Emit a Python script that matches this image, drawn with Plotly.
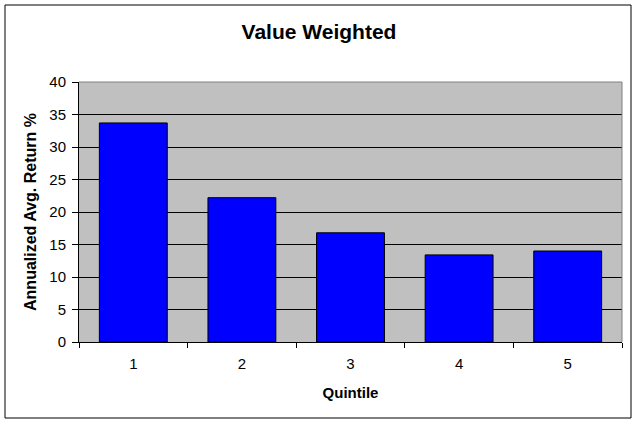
import plotly.graph_objects as go

categories = ["1", "2", "3", "4", "5"]
values = [33.7, 22.2, 16.8, 13.4, 14.0]
y_ticks = [0, 5, 10, 15, 20, 25, 30, 35, 40]

W, H = 638, 424
L, R, T, B = 79, 16, 82, 82
pw, ph = W - L - R, H - T - B

fig = go.Figure(go.Bar(
    x=categories, y=values,
    marker=dict(color="#0000FF", line=dict(color="black", width=1)),
))

font = "Liberation Sans, Arial, sans-serif"
fig.update_layout(
    width=W, height=H,
    margin=dict(l=L, r=R, t=T, b=B),
    paper_bgcolor="white", plot_bgcolor="#C0C0C0",
    bargap=0.375,
    showlegend=False,
    font=dict(family=font, color="black", size=15),
    title=dict(text="<b>Value Weighted</b>", x=0.5, xref="container",
               xanchor="center", y=1 - 32 / H, yanchor="middle",
               font=dict(size=21, family=font, color="black")),
    xaxis=dict(
        type="category", tickson="boundaries", ticks="outside", ticklen=5,
        tickcolor="black", showline=True, linecolor="black", linewidth=1,
        showgrid=False, tickfont=dict(size=15), ticklabelstandoff=8,
        title=dict(text="<b>Quintile</b>", font=dict(size=15), standoff=16),
    ),
    yaxis=dict(
        range=[0, 40], tickvals=y_ticks, ticks="outside", ticklen=6,
        tickcolor="black", showline=True, linecolor="black", linewidth=1,
        showgrid=True, gridcolor="black", gridwidth=1, zeroline=False,
        tickfont=dict(size=15), ticklabelstandoff=3,
        title=dict(text="<b>Annualized Avg. Return %</b>", font=dict(size=16), standoff=8),
    ),
    shapes=[
        dict(type="line", xref="paper", yref="paper", x0=1, x1=1, y0=0, y1=1,
             line=dict(color="#808080", width=1)),
        dict(type="line", xref="paper", yref="paper", x0=0, x1=1, y0=1, y1=1,
             line=dict(color="#808080", width=1)),
        dict(type="rect", xref="paper", yref="paper",
             x0=(5 - L) / pw, x1=(631 - L) / pw,
             y0=(H - B - 418) / ph, y1=(H - B - 5) / ph,
             line=dict(color="black", width=1), fillcolor="rgba(0,0,0,0)"),
    ],
)

fig.write_html("out.html", config={"displayModeBar": False},
               post_script="document.body.style.margin='0';document.body.style.overflow='hidden';")
